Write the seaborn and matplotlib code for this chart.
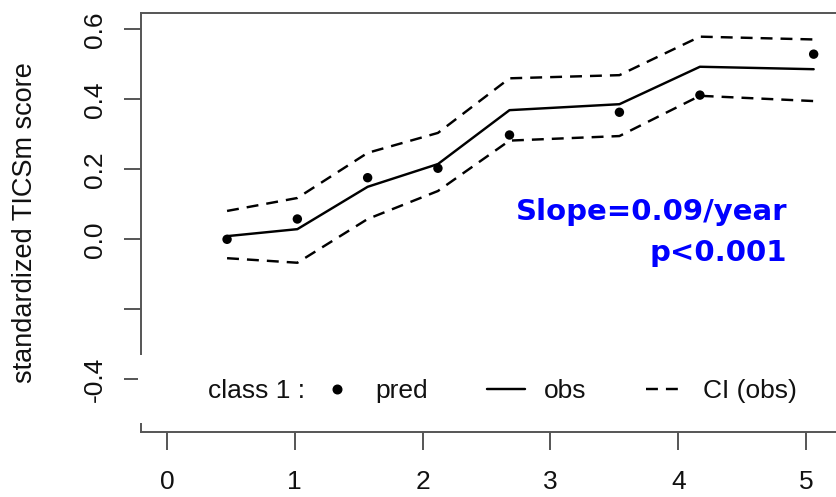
import matplotlib
matplotlib.use("Agg")
import matplotlib.pyplot as plt
from matplotlib.lines import Line2D
from matplotlib.patches import Rectangle
import numpy as np
import pandas as pd
import seaborn as sns

# Follow-up time (years) and standardized TICSm trajectories for class 1
years = [0.47, 1.02, 1.57, 2.12, 2.68, 3.54, 4.17, 5.06]
pred = [0.000, 0.058, 0.176, 0.203, 0.298, 0.363, 0.412, 0.529]
obs = [0.009, 0.029, 0.150, 0.215, 0.369, 0.386, 0.493, 0.486]
ci_hi = [0.081, 0.118, 0.247, 0.304, 0.460, 0.469, 0.579, 0.571]
ci_lo = [-0.054, -0.067, 0.058, 0.138, 0.282, 0.295, 0.410, 0.395]

xticks = [0, 1, 2, 3, 4, 5]
yticks = [-0.4, -0.2, 0.0, 0.2, 0.4, 0.6]
ytick_labels = ["-0.4", "", "0.0", "0.2", "0.4", "0.6"]

df = pd.DataFrame({"year": years, "pred": pred, "obs": obs,
                   "ci_lo": ci_lo, "ci_hi": ci_hi})

sns.set_theme(style="ticks")
plt.rcParams["font.family"] = ["Liberation Sans", "DejaVu Sans"]

W, H = 836, 497
fig = plt.figure(figsize=(W / 100, H / 100), dpi=100)
ax = fig.add_axes([141 / W, (H - 432) / H, 699 / W, 419 / H])

lw = 1.75
dash = (0, (4.9, 3.3))
sns.lineplot(data=df, x="year", y="obs", ax=ax, color="black", lw=lw,
             estimator=None, sort=False)
sns.lineplot(data=df, x="year", y="ci_hi", ax=ax, color="black", lw=lw,
             linestyle=dash, estimator=None, sort=False)
sns.lineplot(data=df, x="year", y="ci_lo", ax=ax, color="black", lw=lw,
             linestyle=dash, estimator=None, sort=False)
sns.scatterplot(data=df, x="year", y="pred", ax=ax, color="black", s=46,
                edgecolor="none", zorder=3)

ax.set_xlim(-0.2034, 5.266)
ax.set_ylim(-0.5506, 0.6466)
ax.set_xticks(xticks)
ax.set_xticklabels([str(t) for t in xticks])
ax.set_yticks(yticks)
ax.set_yticklabels(ytick_labels, rotation=90, va="center")
ax.set_xlabel("")
ax.set_ylabel("standardized TICSm score", fontsize=19.5, color="#111111")
ax.yaxis.set_label_coords(-0.148, 0.5)

spine_c = "#555555"
for s in ax.spines.values():
    s.set_color(spine_c)
    s.set_linewidth(1.4)
ax.tick_params(axis="both", length=12.6, width=1.4, color=spine_c,
               labelsize=19, labelcolor="#111111")
ax.tick_params(axis="x", pad=15)
ax.tick_params(axis="y", pad=12)

# Legend strip with white background across the bottom of the panel
ax.add_patch(Rectangle((-0.004, (432 - 423) / 419), 1.1, (423 - 355) / 419,
                       transform=ax.transAxes, facecolor="white",
                       edgecolor="none", zorder=4, clip_on=False))
ax.text((208 - 141) / 699, (432 - 391) / 419, "class 1 :", transform=ax.transAxes,
        fontsize=19, va="center", ha="left", color="#111111", zorder=6)
handles = [
    Line2D([], [], color="black", marker="o", ls="none", markersize=6.2),
    Line2D([], [], color="black", lw=lw),
    Line2D([], [], color="black", lw=lw, linestyle=dash),
]
leg = ax.legend(handles, ["pred", "obs", "CI (obs)"], ncol=3, frameon=False,
                fontsize=19, handlelength=1.44, handletextpad=0.72,
                columnspacing=2.25, borderpad=0, borderaxespad=0,
                loc="center left",
                bbox_to_anchor=((318 - 141) / 699, (432 - 391) / 419))
for t in leg.get_texts():
    t.set_color("#111111")
leg.set_zorder(6)

# Trend annotation
ax.text(4.851, 0.055, "Slope=0.09/year", color="#0000ff", fontsize=21,
        fontweight="bold", family="DejaVu Sans", ha="right", va="baseline")
ax.text(4.851, -0.062, "p<0.001", color="#0000ff", fontsize=21,
        fontweight="bold", family="DejaVu Sans", ha="right", va="baseline")

fig.savefig("out.png", dpi=100)
